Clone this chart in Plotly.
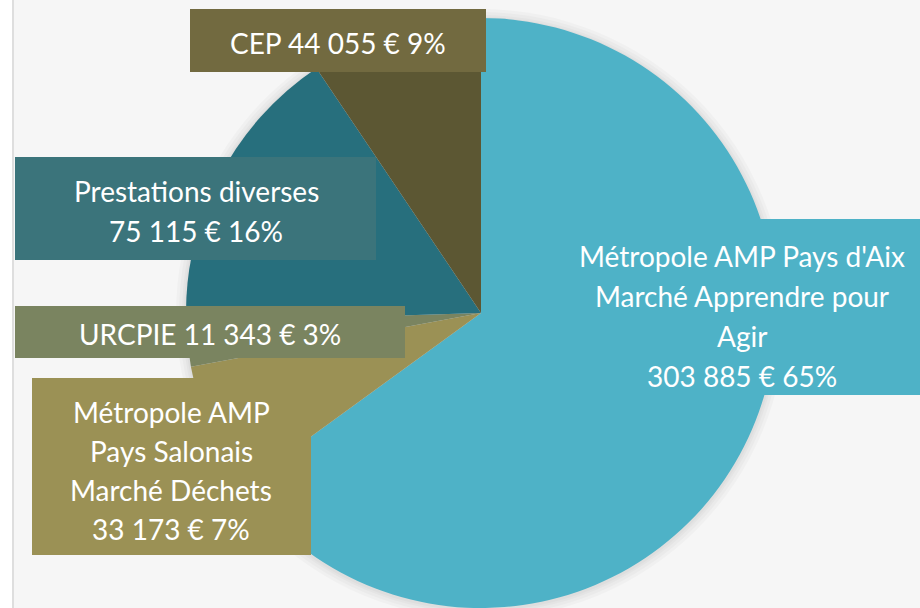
import plotly.graph_objects as go

# données (ordre horaire depuis midi)
names = ["Métropole AMP Pays d'Aix Marché Apprendre pour Agir",
         "Métropole AMP Pays Salonais Marché Déchets",
         "URCPIE",
         "Prestations diverses",
         "CEP"]
values = [303885, 33173, 11343, 75115, 44055]
percents = [65, 7, 3, 16, 9]   # pourcentages affichés
slice_colors = ["#4EB2C7", "#9B9155", "#7A8460", "#276F7D", "#5C5733"]
box_colors = ["#4EB2C7", "#9B9155", "#7A8460", "#3B747B", "#726A40"]

# découpage des étiquettes en lignes
label_lines = [
    ["Métropole AMP Pays d'Aix", "Marché Apprendre pour", "Agir"],
    ["Métropole AMP", "Pays Salonais", "Marché Déchets"],
    ["URCPIE"],
    ["Prestations diverses"],
    ["CEP"],
]

W, H = 920, 608
def px(x):
    return x / W
def py(y):
    return 1 - y / H

def fmt(v):
    return '{:,}'.format(v).replace(',', ' ') + ' €'

# boîtes des étiquettes (pixels) : x0, y0, x1, y1, centre x, y première ligne, pas
boxes = [
    (565, 219, 920, 395, 742, 256, 40),
    (32, 378, 311, 555, 171, 412, 39),
    (15, 306, 405, 358, 210, 334, 40),
    (15, 157, 376, 260, 196, 191, 40),
    (190, 9, 486, 72, 338, 43, 40),
]

fig = go.Figure()

fig.add_trace(go.Pie(
    labels = names,
    values = values,
    sort = False,
    direction = 'clockwise',
    rotation = 0,
    marker = dict(colors = slice_colors, line = dict(width = 0)),
    textinfo = 'none',
    hoverinfo = 'label+value+percent',
    showlegend = False,
    domain = dict(x = [px(186), px(776)], y = [py(608), py(18)])
))

shapes = []
# fond rayé (gris très clair) et ligne verticale à gauche
shapes.append(dict(type = 'rect', xref = 'paper', yref = 'paper',
                   x0 = px(14), x1 = 1, y0 = 0, y1 = 1,
                   fillcolor = '#F6F6F6', line = dict(width = 0), layer = 'below'))
shapes.append(dict(type = 'line', xref = 'paper', yref = 'paper',
                   x0 = px(13), x1 = px(13), y0 = 0, y1 = 1,
                   line = dict(color = '#DEDEDE', width = 2), layer = 'below'))
# ombre douce autour du camembert
cx, cy, r = 481, 313, 295
for d in [10, 7, 4, 2]:
    shapes.append(dict(type = 'circle', xref = 'paper', yref = 'paper',
                       x0 = px(cx - r - d), x1 = px(cx + r + d),
                       y0 = py(cy + r + d + 1), y1 = py(cy - r - d + 1),
                       fillcolor = 'rgba(0,0,0,0.025)',
                       line = dict(width = 0), layer = 'below'))

annotations = []
for k in range(len(values)):
    x0, y0, x1, y1, xc, ty, step = boxes[k]
    shapes.append(dict(type = 'rect', xref = 'paper', yref = 'paper',
                       x0 = px(x0), x1 = px(x1), y0 = py(y1), y1 = py(y0),
                       fillcolor = box_colors[k], line = dict(width = 0),
                       layer = 'above'))
    tail = '{0} {1}%'.format(fmt(values[k]), percents[k])
    lines = list(label_lines[k])
    if k in (2, 4):
        lines[0] = lines[0] + ' ' + tail
    else:
        lines.append(tail)
    for j, t in enumerate(lines):
        annotations.append(dict(x = px(xc), y = py(ty + j * step),
                                xref = 'paper', yref = 'paper',
                                text = t, showarrow = False,
                                xanchor = 'center', yanchor = 'middle',
                                font = dict(family = 'Lato', size = 28, color = 'white')))

fig.update_layout(
    width = W, height = H,
    margin = dict(t = 0, b = 0, l = 0, r = 0),
    paper_bgcolor = 'white',
    plot_bgcolor = 'white',
    shapes = shapes,
    annotations = annotations
)

fig.write_html("out.html", config = {'displayModeBar': False},
               post_script = "document.body.style.margin = '0';")
